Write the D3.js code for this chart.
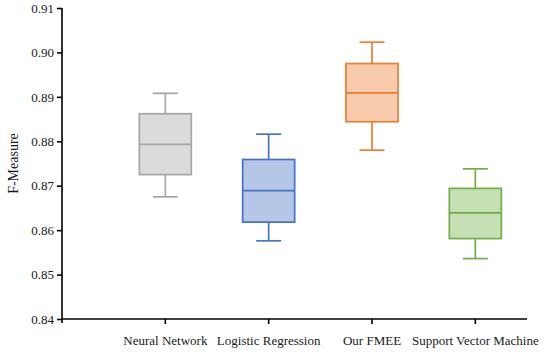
<!DOCTYPE html>
<html><head><meta charset="utf-8">
<script src="https://cdn.jsdelivr.net/npm/d3@7"></script>
<style>body{margin:0;background:#fff}svg{display:block}</style>
</head><body>
<svg id="chart" width="550" height="354"></svg>
<script>
const categories = ["Neural Network", "Logistic Regression", "Our FMEE", "Support Vector Machine"];
const lowerWhisker = [0.8675, 0.8576, 0.8780, 0.8536];
const q1 = [0.8725, 0.8618, 0.8844, 0.8581];
const median = [0.8793, 0.8689, 0.8909, 0.8639];
const q3 = [0.8862, 0.8759, 0.8975, 0.8694];
const upperWhisker = [0.8908, 0.8816, 0.9023, 0.8738];
const strokeColors = ["#a5a5a5", "#4472c4", "#ed7d31", "#70ad47"];
const fillColors = ["#dbdbdb", "#b4c7e7", "#f8cbad", "#c5e0b4"];
const yTicks = [0.84, 0.85, 0.86, 0.87, 0.88, 0.89, 0.90, 0.91];
const yLabel = "F-Measure";

const svg = d3.select("#chart");
const x0 = 62, x1 = 527, yTop = 8, yBot = 319;
const y = d3.scaleLinear().domain([0.84, 0.91]).range([yBot, yTop]);
const step = (x1 - x0) / 4.5;
const x = d3.scaleBand().domain(categories).range([x0 + step / 2, x1]).paddingInner(0).paddingOuter(0);
const boxW = 52, capW = 25;
const font = "'Liberation Serif', 'Times New Roman', serif";

const data = categories.map((c, i) => ({c, lo: lowerWhisker[i], q1: q1[i], med: median[i], q3: q3[i], hi: upperWhisker[i], s: strokeColors[i], f: fillColors[i]}));

const g = svg.append("g");
data.forEach(d => {
  const cx = x(d.c) + x.bandwidth() / 2;
  const gg = g.append("g").attr("stroke", d.s).attr("stroke-width", 1.7).attr("fill", "none");
  gg.append("line").attr("x1", cx).attr("x2", cx).attr("y1", y(d.hi)).attr("y2", y(d.q3));
  gg.append("line").attr("x1", cx).attr("x2", cx).attr("y1", y(d.q1)).attr("y2", y(d.lo));
  gg.append("line").attr("x1", cx - capW / 2).attr("x2", cx + capW / 2).attr("y1", y(d.hi)).attr("y2", y(d.hi));
  gg.append("line").attr("x1", cx - capW / 2).attr("x2", cx + capW / 2).attr("y1", y(d.lo)).attr("y2", y(d.lo));
  gg.append("rect").attr("x", cx - boxW / 2).attr("width", boxW).attr("y", y(d.q3)).attr("height", y(d.q1) - y(d.q3)).attr("fill", d.f);
  gg.append("line").attr("x1", cx - boxW / 2).attr("x2", cx + boxW / 2).attr("y1", y(d.med)).attr("y2", y(d.med));
});

// y axis
const yAxis = d3.axisLeft(y).tickValues(yTicks).tickFormat(d3.format(".2f")).tickSize(5).tickPadding(3);
const ya = svg.append("g").attr("transform", `translate(${x0},0)`).call(yAxis);
ya.attr("font-family", font).attr("font-size", 13);
ya.select(".domain").remove();
ya.append("line").attr("x1", 0).attr("x2", 0).attr("y1", yTop).attr("y2", yBot + 4).attr("stroke", "#000").attr("stroke-width", 1.6);
ya.selectAll(".tick line").attr("stroke", "#000").attr("stroke-width", 1.6);
ya.selectAll(".tick text").attr("fill", "#1a1a1a");

// x axis
const xAxis = d3.axisBottom(x).tickSize(5).tickPadding(12);
const xa = svg.append("g").attr("transform", `translate(0,${yBot})`).call(xAxis);
xa.attr("font-family", font).attr("font-size", 13);
xa.select(".domain").remove();
xa.append("line").attr("x1", x0).attr("x2", x1).attr("y1", 0).attr("y2", 0).attr("stroke", "#000").attr("stroke-width", 1.6);
xa.selectAll(".tick line").attr("stroke", "#000").attr("stroke-width", 1.6);
xa.selectAll(".tick text").attr("fill", "#1a1a1a");

svg.append("text").attr("transform", `translate(18,${(yTop + yBot) / 2}) rotate(-90)`)
  .attr("text-anchor", "middle").attr("font-family", font).attr("font-size", 14).attr("fill", "#1a1a1a").text(yLabel);
</script>
</body></html>
